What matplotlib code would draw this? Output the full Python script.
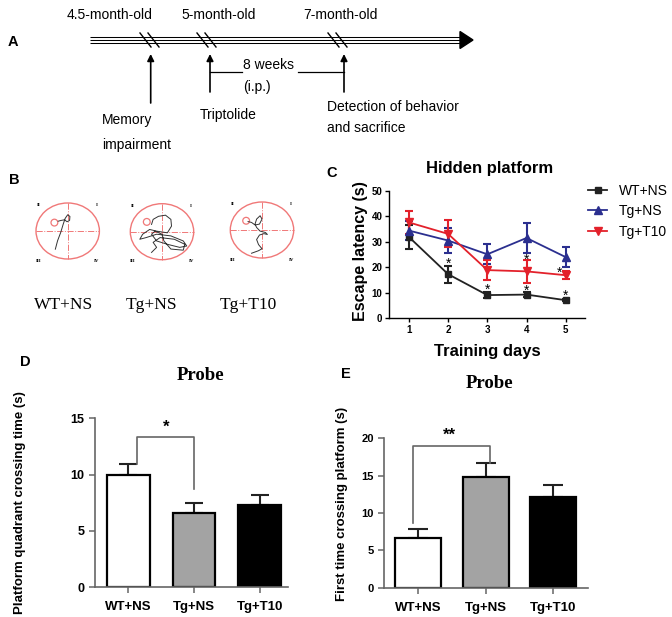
import matplotlib
matplotlib.use('Agg')
import matplotlib.pyplot as plt
from matplotlib.patches import Ellipse, Circle, Polygon
from matplotlib.lines import Line2D

SANS = ['Liberation Sans', 'DejaVu Sans']
SERIF = ['Liberation Serif', 'DejaVu Serif']
plt.rcParams['font.family'] = SANS

# ---------------- data ----------------
days = [1, 2, 3, 4, 5]
wt_ns = [31.9, 17.3, 9.1, 9.3, 7.1]
wt_ns_err = [4.6, 3.4, 1.1, 1.0, 0.5]
tg_ns = [34.4, 30.5, 25.1, 31.5, 24.0]
tg_ns_err = [3.6, 5.0, 4.0, 5.7, 4.0]
tg_t10 = [37.6, 33.1, 18.9, 18.4, 16.9]
tg_t10_err = [4.4, 5.3, 3.8, 4.6, 1.5]
series_names = ['WT+NS', 'Tg+NS', 'Tg+T10']
star_x = [2.0, 3.0, 4.0, 4.0, 4.84, 5.0]
star_y = [21.5, 11.3, 22.8, 10.8, 17.7, 9.0]

groups = ['WT+NS', 'Tg+NS', 'Tg+T10']
quadrant_time = [9.94, 6.57, 7.28]
quadrant_err = [0.98, 0.89, 0.92]
first_cross = [6.65, 14.78, 12.14]
first_cross_err = [1.15, 1.87, 1.61]
bar_colors = ['white', '#a3a3a3', 'black']

# timeline (panel A)
timeline_labels = ['4.5-month-old', '5-month-old', '7-month-old']
timeline_label_x = [110, 219, 340]
break_x = [140, 197, 328]
event_x = [150.7, 210, 344]
event_y0 = [103, 92, 92]

# swim paths (panel B), pool units
pool_cx = [67.7, 162, 262]
pool_cy = [231, 231.7, 230]
platform_xy = [(-0.42, 0.30), (-0.48, 0.35), (-0.5, 0.33)]
path_wt = [(-0.39, -0.65), (-0.32, -0.35), (-0.22, -0.05), (-0.14, 0.25), (-0.08, 0.45),
           (0.0, 0.58), (0.07, 0.52), (0.06, 0.38), (-0.02, 0.33), (-0.1, 0.40),
           (-0.2, 0.38), (-0.3, 0.35)]
path_tg = [(-0.33, 0.26), (-0.28, 0.44), (-0.11, 0.55), (0.11, 0.59), (0.28, 0.44),
           (0.3, 0.2), (0.17, -0.04), (-0.17, 0.02), (-0.39, 0.08), (-0.61, -0.09),
           (-0.7, -0.27), (-0.5, -0.21), (-0.17, -0.09), (0.28, -0.15), (0.67, -0.33),
           (0.78, -0.51), (0.56, -0.56), (0.17, -0.45), (-0.17, -0.33), (-0.33, -0.09),
           (-0.22, 0.02), (0.0, -0.09), (0.06, -0.33), (0.28, -0.62), (0.67, -0.66),
           (0.72, -0.45), (0.39, -0.27), (-0.06, -0.21), (-0.28, -0.38), (-0.17, -0.56),
           (-0.33, -0.74)]
path_t10 = [(-0.33, -0.83), (-0.11, -0.74), (0.0, -0.67), (-0.11, -0.52), (-0.17, -0.34),
            (-0.08, -0.18), (0.06, -0.13), (0.17, -0.16), (0.11, -0.09), (-0.06, -0.04),
            (-0.17, 0.09), (-0.22, 0.21), (-0.17, 0.39), (-0.06, 0.51), (0.0, 0.39),
            (-0.08, 0.21), (-0.22, 0.18), (-0.33, 0.27), (-0.44, 0.30)]
paths = [path_wt, path_tg, path_t10]
pool_labels = ['WT+NS', 'Tg+NS', 'Tg+T10']
pool_label_x = [64, 152, 248]

# ---------------- figure ----------------
W, H = 672, 617
fig = plt.figure(figsize=(W / 100, H / 100), dpi=100)

ov = fig.add_axes([0, 0, 1, 1])
ov.set_xlim(0, W)
ov.set_ylim(H, 0)
ov.axis('off')

# panel letters
for s, (x, y) in zip('ABCDE', [(13, 42), (14, 180), (332, 173), (25, 362), (346, 374)]):
    ov.text(x, y, s, fontsize=10.5, fontweight='bold', ha='center', va='center')

# ---- Panel A ----
for yy in [36.8, 40, 43.2]:
    ov.plot([90, 462], [yy, yy], color='black', lw=0.75, solid_capstyle='butt')
ov.add_patch(Polygon([(460, 31.5), (473, 40), (460, 48.5)], closed=True, color='black'))
for bx in break_x:
    for off in (0, 8):
        ov.plot([bx + off, bx + off + 11], [33, 47], color='black', lw=1.0)
for lab, lx in zip(timeline_labels, timeline_label_x):
    ov.text(lx, 15, lab, fontsize=10, ha='center', va='center')
for ex, ey in zip(event_x, event_y0):
    ov.annotate('', xy=(ex, 54), xytext=(ex, ey),
                arrowprops=dict(arrowstyle='-|>', lw=1.2, color='black', mutation_scale=10,
                                shrinkA=0, shrinkB=0))
ov.plot([210, 241.7], [71.7, 71.7], color='black', lw=0.9)
ov.plot([298, 344], [71.7, 71.7], color='black', lw=0.9)
ov.text(243, 65, '8 weeks', fontsize=10, ha='left', va='center')
ov.text(243, 87, '(i.p.)', fontsize=10, ha='left', va='center')
ov.text(102, 120, 'Memory', fontsize=10, ha='left', va='center')
ov.text(102, 145, 'impairment', fontsize=10, ha='left', va='center')
ov.text(200, 115, 'Triptolide', fontsize=10, ha='left', va='center')
ov.text(327, 107, 'Detection of behavior', fontsize=10, ha='left', va='center')
ov.text(327, 128, 'and sacrifice', fontsize=10, ha='left', va='center')

# ---- Panel B ----
rx, ry = 31.7, 28.0
pool_red = '#f07878'
for cx, cy, (px, py), path, lab, lbx in zip(pool_cx, pool_cy, platform_xy, paths,
                                           pool_labels, pool_label_x):
    ov.add_patch(Ellipse((cx, cy), 2 * rx, 2 * ry, fill=False, ec=pool_red, lw=1.0))
    ov.plot([cx - rx, cx + rx], [cy, cy], color=pool_red, lw=0.7, ls='-.')
    ov.plot([cx, cx], [cy - ry, cy + ry], color=pool_red, lw=0.7, ls='-.')
    ov.add_patch(Circle((cx + px * rx, cy - py * ry), 3.4, fill=False, ec=pool_red, lw=0.9))
    xs = [cx + p[0] * rx for p in path]
    ys = [cy - p[1] * ry for p in path]
    ov.plot(xs, ys, color='#333333', lw=0.7)
    for t, dx, dy in [('II', -29.4, -26), ('I', 29, -26), ('III', -29.4, 29.7), ('IV', 29, 29.7)]:
        ov.text(cx + dx, cy + dy, t, fontsize=3.5, fontweight='bold', ha='center', va='center',
                family=SERIF)
    ov.text(lbx, 305, lab, fontsize=12.5, family=SERIF, ha='center', va='center')

# ---- Panel C ----
axC = fig.add_axes([389.3 / W, 1 - 318.3 / H, 196 / W, 127.5 / H])
axC.set_facecolor('none')
cols = ['#222222', '#2b2f8f', '#e3212b']
markers = ['s', '^', 'v']
msz = [5, 6, 6]
handles = []
for vals, errs, c, m, ms, name in zip([wt_ns, tg_ns, tg_t10], [wt_ns_err, tg_ns_err, tg_t10_err],
                                       cols, markers, msz, series_names):
    axC.errorbar(days, vals, yerr=errs, color=c, marker=m, markersize=ms, lw=1.3,
                 elinewidth=1.5, capsize=3, capthick=1.5, label=name)
    handles.append(Line2D([], [], color=c, marker=m, markersize=ms, lw=1.3))
for sx, sy in zip(star_x, star_y):
    axC.text(sx, sy, '*', fontsize=10, ha='center', va='center')
axC.set_xlim(0.5, 5.5)
axC.set_ylim(0, 50)
axC.set_xticks(days)
axC.set_yticks([0, 10, 20, 30, 40, 50])
for sp in ['top', 'right']:
    axC.spines[sp].set_visible(False)
for sp in ['left', 'bottom']:
    axC.spines[sp].set_linewidth(1.0)
axC.tick_params(direction='out', length=3, width=1, labelsize=7, pad=2)
for lab in axC.get_xticklabels() + axC.get_yticklabels():
    lab.set_fontweight('bold')
axC.set_ylabel('Escape latency (s)', fontsize=11.5, fontweight='bold')
axC.yaxis.set_label_coords(-0.11, 0.53)
axC.set_xlabel('Training days', fontsize=12, fontweight='bold', labelpad=6)
fig.text(490 / W, 1 - 168 / H, 'Hidden platform', fontsize=12, fontweight='bold',
         ha='center', va='center')
fig.legend(handles, series_names, loc='upper left', bbox_to_anchor=(588 / W, 1 - 184 / H),
           bbox_transform=fig.transFigure, frameon=False, fontsize=10, handlelength=1.4,
           handletextpad=0.8, labelspacing=0.45, borderpad=0, borderaxespad=0)


def bar_panel(rect, vals, errs, ymax, yticks, xlim, width, capsize, tick_fs, ylabel, yl_fs):
    ax = fig.add_axes(rect)
    ax.set_facecolor('none')
    x = list(range(len(groups)))
    ax.bar(x, vals, width=width, color=bar_colors, edgecolor='black', linewidth=1.6, zorder=2)
    ax.errorbar(x, vals, yerr=[[0] * len(vals), errs], fmt='none', ecolor='#222222',
                elinewidth=1.5, capsize=capsize, capthick=1.5, zorder=1)
    ax.set_xlim(*xlim)
    ax.set_ylim(0, ymax)
    ax.set_xticks(x)
    ax.set_xticklabels(groups)
    ax.set_yticks(yticks)
    for sp in ['top', 'right']:
        ax.spines[sp].set_visible(False)
    for sp in ['left', 'bottom']:
        ax.spines[sp].set_color('#666666')
        ax.spines[sp].set_linewidth(1.2)
    ax.tick_params(direction='out', length=4, width=1.1, color='#666666', labelsize=tick_fs)
    ax.tick_params(axis='x', labelsize=9.5, pad=6)
    for lab in ax.get_xticklabels() + ax.get_yticklabels():
        lab.set_fontweight('bold')
    ax.set_ylabel(ylabel, fontsize=yl_fs, fontweight='bold')
    return ax


# ---- Panel D ----
axD = bar_panel([95 / W, 1 - 587.3 / H, 193 / W, 169 / H], quadrant_time, quadrant_err, 15,
                [0, 5, 10, 15], (-0.51, 2.43), 0.65, 6.5, 9,
                'Platform quadrant crossing time (s)', 9.5)
axD.yaxis.set_label_coords(-0.36, 0.5)
axD.plot([0.13, 0.13, 1.0, 1.0], [10.92, 13.3, 13.3, 8.7], color='#666666', lw=1.2)
axD.text(0.57, 14.2, '*', fontsize=12, fontweight='bold', ha='center', va='center')
fig.text(201 / W, 1 - 375 / H, 'Probe', fontsize=13.5, fontweight='bold', family=SERIF,
         ha='center', va='center')

# ---- Panel E ----
axE = bar_panel([384.3 / W, 1 - 587.7 / H, 203.4 / W, 149.4 / H], first_cross, first_cross_err, 20,
                [0, 5, 10, 15, 20], (-0.5, 2.51), 0.68, 7, 8,
                'First time crossing platform (s)', 9.5)
axE.yaxis.set_label_coords(-0.18, 0.56)
axE.plot([-0.08, -0.08, 1.06, 1.06], [8.7, 19.0, 19.0, 16.65], color='#666666', lw=1.2)
axE.text(0.46, 20.4, '**', fontsize=12, fontweight='bold', ha='center', va='center')
fig.text(490 / W, 1 - 383 / H, 'Probe', fontsize=13.5, fontweight='bold', family=SERIF,
         ha='center', va='center')

fig.savefig('out.png', dpi=100)
